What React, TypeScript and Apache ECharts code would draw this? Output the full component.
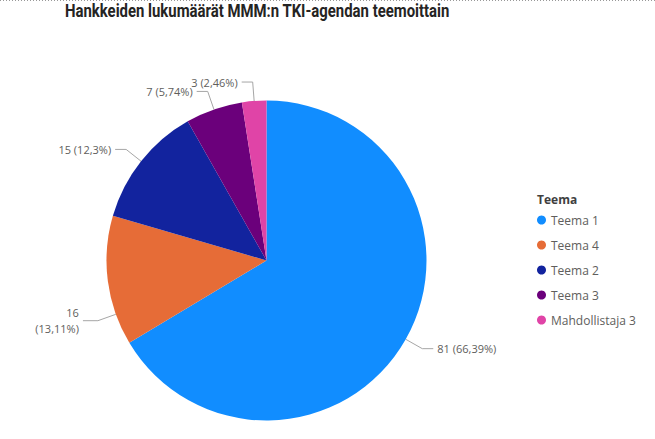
import React, { useEffect, useRef } from 'react';
import * as echarts from 'echarts';

const categories = ['Teema 1', 'Teema 4', 'Teema 2', 'Teema 3', 'Mahdollistaja 3'];
const values = [81, 16, 15, 7, 3];
const colors = ['#118DFF', '#E66C37', '#12239E', '#6B007B', '#E044A7'];
const titleText = 'Hankkeiden lukumäärät MMM:n TKI-agendan teemoittain';
const legendTitle = 'Teema';

const W = 655;
const H = 439;
const CX = 266.5;
const CY = 260.5;
const R = 160;
const LEN1 = 19;
const LEN2 = 11;
const FONT = "'Segoe UI', 'Open Sans', 'Noto Sans', sans-serif";
const TITLE_FONT = "bold 18px Roboto, 'Liberation Sans', sans-serif";
const TITLE_WIDTH = 385;

const total = values.reduce((a, b) => a + b, 0);
const fmtPct = (v: number) =>
  (v / total * 100).toFixed(2).replace(/\.?0+$/, '').replace('.', ',');

function measure(text: string, font: string) {
  const ctx = document.createElement('canvas').getContext('2d');
  if (!ctx) return TITLE_WIDTH;
  ctx.font = font;
  return ctx.measureText(text).width || TITLE_WIDTH;
}

export default function App() {
  const ref = useRef<HTMLDivElement>(null);
  useEffect(() => {
    document.body.style.margin = '0';
    if (!ref.current) return;
    const chart = echarts.init(ref.current, undefined, { renderer: 'svg' });
    const titleScale = TITLE_WIDTH / measure(titleText, TITLE_FONT);
    const data = categories.map((name, i) => ({
      name,
      value: values[i],
      itemStyle: { color: colors[i] },
      label: {
        formatter: i === 1
          ? `${values[i]}\n(${fmtPct(values[i])}%)`
          : `${values[i]} (${fmtPct(values[i])}%)`,
      },
    }));
    chart.setOption({
      animation: false,
      legend: {
        orient: 'vertical',
        left: 537,
        top: 213,
        padding: 0,
        icon: 'circle',
        itemWidth: 9,
        itemHeight: 9,
        itemGap: 11,
        data: categories,
        selectedMode: false,
        textStyle: { fontSize: 12, color: '#605E5C', fontFamily: FONT, lineHeight: 14 },
      },
      graphic: [
        {
          type: 'line',
          shape: { x1: 0, y1: 0.5, x2: W, y2: 0.5 },
          style: { stroke: '#999', lineWidth: 1, lineDash: [1, 2] },
        },
        {
          type: 'text',
          x: 65,
          y: 2,
          scaleX: titleScale,
          style: {
            text: titleText,
            font: TITLE_FONT,
            fill: '#252423',
          },
        },
        {
          type: 'text',
          left: 537,
          top: 193,
          style: { text: legendTitle, font: `bold 12px ${FONT}`, fill: '#404040' },
        },
      ],
      series: [
        {
          type: 'pie',
          center: [CX, CY],
          radius: R,
          startAngle: 90,
          clockwise: true,
          avoidLabelOverlap: false,
          data,
          label: {
            show: true,
            position: 'outside',
            fontSize: 11,
            lineHeight: 16,
            color: '#605E5C',
            fontFamily: FONT,
            distanceToLabelLine: 4,
          },
          labelLine: {
            show: true,
            length: LEN1,
            length2: LEN2,
            lineStyle: { color: '#A6A6A6', width: 1 },
          },
          emphasis: { disabled: true },
          labelLayout: (params: any) => {
            if (params.dataIndex !== 1) return {};
            const start = values.slice(0, 1).reduce((a, b) => a + b, 0) / total * 360;
            const sweep = values[1] / total * 360;
            const th = (start + sweep * 0.24) * Math.PI / 180;
            const dx = Math.sin(th);
            const dy = -Math.cos(th);
            const p0 = [CX + R * dx, CY + R * dy];
            const p1 = [CX + (R + LEN1) * dx, CY + (R + LEN1) * dy];
            const p2 = [p1[0] - 15, p1[1]];
            return {
              x: p2[0] - 4,
              y: p2[1],
              align: 'right',
              verticalAlign: 'middle',
              labelLinePoints: [p0, p1, p2],
            };
          },
        },
      ],
    });
    return () => chart.dispose();
  }, []);
  return <div ref={ref} style={{ width: W, height: H }} />;
}
